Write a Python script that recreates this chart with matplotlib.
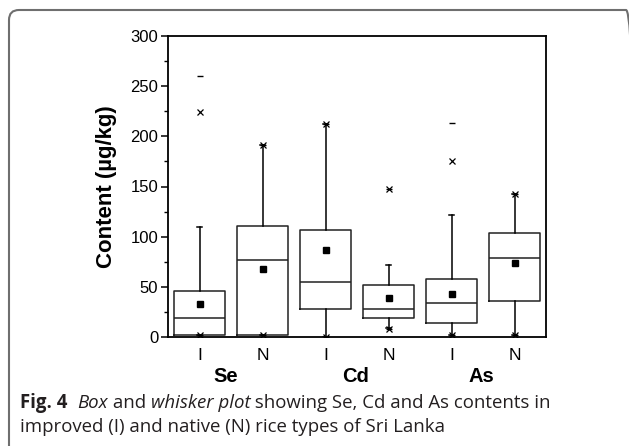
import matplotlib
matplotlib.use("Agg")
import matplotlib.pyplot as plt
from matplotlib.patches import FancyBboxPatch
from matplotlib.ticker import MultipleLocator

# ---- data (µg/kg) ----
tick_labels = ["I", "N", "I", "N", "I", "N"]
groups = ["Se", "Cd", "As"]
group_pos = [1.41, 3.47, 5.47]
whislo = [2, 2, 0, 9, 2, 2]
q1 = [2, 2, 28, 19, 14, 36]
med = [19, 77, 55, 28, 33.5, 79]
q3 = [46, 111, 107, 52, 58, 104]
whishi = [110, 191, 212, 72, 122, 143]
means = [33, 68, 87, 38.5, 42.5, 74]
p01 = [2, 2, 0, 8, 2, 2]
p99 = [224, 191, 212, 148, 175, 143]
mins = [2, 2, 0, 8, 2, 2]
maxs = [260, 191, 212, 148, 213, 143]

plt.rcParams['font.family'] = ['Liberation Sans', 'DejaVu Sans']
W, H = 629, 446
fig = plt.figure(figsize=(W / 100, H / 100), dpi=100)

ax = fig.add_axes([168 / W, 1 - 337 / H, (546 - 168) / W, (337 - 36) / H])
positions = list(range(1, len(med) + 1))
stats = []
for i in range(len(med)):
    stats.append(dict(whislo=whislo[i], q1=q1[i], med=med[i], q3=q3[i],
                      whishi=whishi[i], fliers=[], mean=means[i]))
ax.bxp(stats, positions=positions, widths=0.8, showmeans=True, showfliers=False,
       patch_artist=False,
       boxprops=dict(color="#222222", linewidth=1.1),
       medianprops=dict(color="#222222", linewidth=1.1),
       whiskerprops=dict(color="black", linewidth=1.1),
       capprops=dict(color="black", linewidth=1.1),
       capwidths=0.08,
       meanprops=dict(marker="s", markerfacecolor="black", markeredgecolor="black",
                      markersize=5))
ax.plot(positions, p01, ls="none", marker="x", color="black", ms=4, mew=0.9, zorder=5)
ax.plot(positions, p99, ls="none", marker="x", color="black", ms=4, mew=0.9, zorder=5)
ax.plot(positions, mins, ls="none", marker="_", color="black", ms=5, mew=1.0, zorder=5)
ax.plot(positions, maxs, ls="none", marker="_", color="black", ms=5, mew=1.0, zorder=5)

ax.set_xlim(0.5, 6.5)
ax.set_ylim(0, 300)
ax.yaxis.set_major_locator(MultipleLocator(50))
ax.yaxis.set_minor_locator(MultipleLocator(25))
ax.set_xticks(positions)
ax.set_xticklabels(tick_labels, fontsize=12.5)
ax.tick_params(axis="x", length=0, pad=8)
ax.tick_params(axis="y", which="major", length=5, width=1.1, labelsize=12, pad=2)
ax.tick_params(axis="y", which="minor", length=3, width=1.0)
for s in ax.spines.values():
    s.set_linewidth(1.3)
ax.set_ylabel("Content (µg/kg)", fontsize=16, fontweight="bold")
ax.yaxis.set_label_coords((117 - 168) / (546 - 168), 0.5)

for g, xg in zip(groups, group_pos):
    ax.text(xg, -(376 - 337) / (337 - 36), g, transform=ax.get_xaxis_transform(),
            ha="center", va="center", fontsize=14.5, fontweight="bold")

# frame (right edge lies just outside the picture)
frame = FancyBboxPatch((9, -20), 636 - 9, H - 10 + 20, boxstyle="round,pad=0,rounding_size=10",
                       transform=None, fill=False, edgecolor="#6f6f6f", linewidth=1.5, clip_on=False)
fig.patches.append(frame)

# caption with mixed styles
fig.canvas.draw()
renderer = fig.canvas.get_renderer()
cap_font = ['Open Sans', 'DejaVu Sans']
cfs = 13.4

def put_line(parts, x0, y0):
    x = x0
    for txt, kw in parts:
        t = fig.text(x / W, 1 - y0 / H, txt, ha="left", va="baseline", family=cap_font,
                     fontsize=cfs, color="#231f20", **kw)
        bb = t.get_window_extent(renderer)
        x += bb.width

put_line([("Fig. 4", dict(fontweight="bold")), ("  ", {}), ("Box", dict(style="italic")),
          (" and ", {}), ("whisker plot", dict(style="italic")),
          (" showing Se, Cd and As contents in", {})], 20, 408)
put_line([("improved (I) and native (N) rice types of Sri Lanka", {})], 20, 432)

fig.savefig("out.png", dpi=100)
